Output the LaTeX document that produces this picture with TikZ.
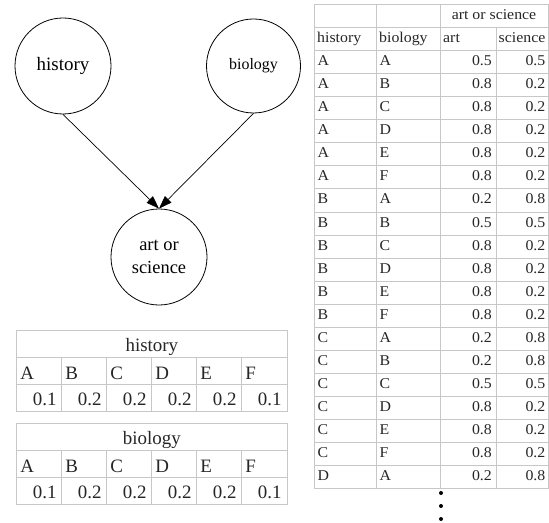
\documentclass[tikz,border=0pt]{standalone}
\usepackage{fontspec}
\setmainfont{Liberation Serif}
\newfontfamily\widefont[FakeStretch=1.06]{Liberation Serif}
\usetikzlibrary{arrows.meta}
\begin{document}
\begin{tikzpicture}[x=1bp,y=-1bp,
  grid/.style={draw=black!22,line width=1bp},
  var/.style={draw,circle,line width=0.8bp,minimum size=96bp,inner sep=0pt,align=center},
  arr/.style={line width=0.7bp,-{Triangle[length=13bp,width=9bp]}},
  rt/.style={font=\widefont\fontsize{15}{17}\selectfont,inner sep=0pt,text=black!85},
  lt/.style={font=\fontsize{19}{22}\selectfont,inner sep=0pt,text=black!85}]
\useasboundingbox (0,0) rectangle (549,523);

% Bayesian network
\node[var,font=\fontsize{19}{22}\selectfont] (h) at (63,66) {history};
\node[var,font=\fontsize{16}{19}\selectfont,minimum size=94bp] (b) at (253.5,66) {biology};
\node[var,font=\fontsize{18.5}{23}\selectfont] (a) at (159,257) {art or\\science};
\draw[arr] (h.south) -- (a.north);
\draw[arr] (b.south) -- (a.north);

% prior tables of the two parent variables
\foreach \ty/\ttl/\id in {330/history/lh, 423/biology/lb} {
  \draw[grid] (16.7,\ty) rectangle (287,{\ty+81.5});
  \draw[grid] (16.7,{\ty+27.2}) -- (287,{\ty+27.2});
  \draw[grid] (16.7,{\ty+54.4}) -- (287,{\ty+54.4});
  \foreach \k in {1,...,5}
    \draw[grid] ({16.7+45*\k},{\ty+27.2}) -- ({16.7+45*\k},{\ty+81.5});
  \node[lt,anchor=base] (\id-t) at (151.85,{\ty+27.2-5.5}) {\ttl};
  \foreach \L/\v [count=\k from 0] in {A/0.1,B/0.2,C/0.2,D/0.2,E/0.2,F/0.1} {
    \node[lt,anchor=base west] (\id-\L) at ({16.7+45*\k+3.5},{\ty+54.4-4.5}) {\L};
    \node[lt,anchor=base east] (\id-v\L) at ({16.7+45*(\k+1)-5},{\ty+81.5-6.5}) {\v};
  }
}

% conditional probability table of art or science
\draw[grid] (314,5) rectangle (548,488);
\foreach \r in {1,...,20}
  \draw[grid] (314,{5+23*\r}) -- (548,{5+23*\r});
\draw[grid] (376,5) -- (376,488);
\draw[grid] (440,5) -- (440,488);
\draw[grid] (496,28) -- (496,488);

\node[rt,anchor=base] (cpt-t) at (494,19.5) {art or science};
\node[rt,anchor=base west] (cpt-h) at (317,42.5) {history};
\node[rt,anchor=base west] (cpt-b) at (379,42.5) {biology};
\node[rt,anchor=base west] (cpt-a) at (443,42.5) {art};
\node[rt,anchor=base west] (cpt-s) at (498.5,42.5) {science};

\foreach \hh/\bb/\p/\q [count=\i] in {
  A/A/0.5/0.5, A/B/0.8/0.2, A/C/0.8/0.2, A/D/0.8/0.2, A/E/0.8/0.2, A/F/0.8/0.2,
  B/A/0.2/0.8, B/B/0.5/0.5, B/C/0.8/0.2, B/D/0.8/0.2, B/E/0.8/0.2, B/F/0.8/0.2,
  C/A/0.2/0.8, C/B/0.2/0.8, C/C/0.5/0.5, C/D/0.8/0.2, C/E/0.8/0.2, C/F/0.8/0.2,
  D/A/0.2/0.8} {
  \node[rt,anchor=base west] (r\i-h) at (317.5,{5+23*(\i+1)+15}) {\hh};
  \node[rt,anchor=base west] (r\i-b) at (379.5,{5+23*(\i+1)+15}) {\bb};
  \node[rt,anchor=base east] (r\i-p) at (492,{5+23*(\i+1)+15}) {\p};
  \node[rt,anchor=base east] (r\i-q) at (545.5,{5+23*(\i+1)+15}) {\q};
}

% continuation marks
\foreach \dy in {493,506,519}
  \fill (441,\dy) circle (2bp);
\end{tikzpicture}
\end{document}
